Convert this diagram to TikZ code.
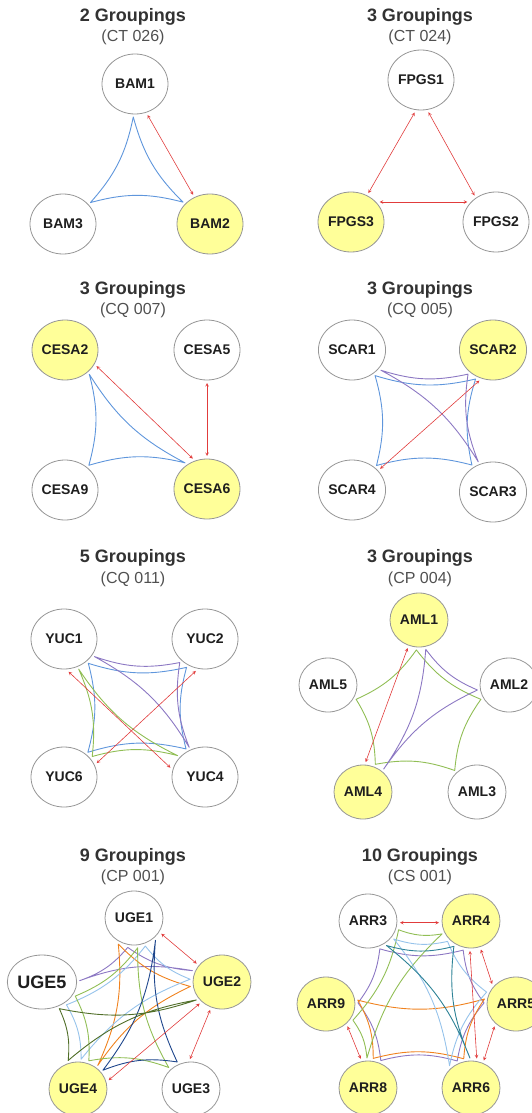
\documentclass[tikz,border=0pt]{standalone}
\usepackage{fontspec}
\setmainfont{Liberation Sans}
\usetikzlibrary{shapes.geometric}
\definecolor{ringgray}{RGB}{150,150,150}
\definecolor{hitfill}{RGB}{255,255,153}
\definecolor{labelblack}{RGB}{30,30,30}
\definecolor{titlegray}{RGB}{50,50,50}
\definecolor{subgray}{RGB}{80,80,80}
\definecolor{redline}{RGB}{225,60,60}
\definecolor{blueline}{RGB}{95,150,220}
\definecolor{purpleline}{RGB}{140,120,195}
\definecolor{greenline}{RGB}{145,190,85}
\definecolor{orangeline}{RGB}{240,130,30}
\definecolor{skyline}{RGB}{150,195,235}
\definecolor{navyline}{RGB}{30,70,140}
\definecolor{oliveline}{RGB}{80,110,40}
\definecolor{tealline}{RGB}{45,130,150}
\begin{document}
\begin{tikzpicture}[x=1pt,y=-1pt,>=stealth,
  gene/.style={ellipse,draw=ringgray,line width=0.8pt,minimum width=66pt,minimum height=60pt,
    inner sep=0pt,outer sep=3pt,text=labelblack,font=\bfseries\fontsize{14}{16}\selectfont},
  genesm/.style={minimum width=58pt,minimum height=54pt},
  hit/.style={gene,fill=hitfill},
  heading/.style={text=titlegray,font=\bfseries\fontsize{18}{20}\selectfont},
  runcode/.style={text=subgray,font=\fontsize{16}{18}\selectfont},
  pair/.style={<->,draw=redline,line width=0.6pt},
  grp/.style={line width=0.9pt,line join=round},
  cave/.style={bend right=15}]
   \useasboundingbox (0,0) rectangle (532,1113);

   % 1段目 左
   \node[heading] (t1) at (133,17) {2 Groupings};
   \node[runcode] (c1) at (133,37) {(CT 026)};
   \node[gene] (BAM1) at (135,84) {BAM1};
   \node[gene] (BAM3) at (63,224) {BAM3};
   \node[hit] (BAM2) at (210,224) {BAM2};
   \draw[grp,blueline] (BAM1.-93) to[cave] (BAM2.141) to[cave] (BAM3.38) to[cave] cycle;
   \draw[pair] (BAM1.-68) -- (BAM2.120);

   % 1段目 右
   \node[heading] (t2) at (420,17) {3 Groupings};
   \node[runcode] (c2) at (420,37) {(CT 024)};
   \node[gene] (FPGS1) at (421,80) {FPGS1};
   \node[hit] (FPGS3) at (351,222) {FPGS3};
   \node[gene] (FPGS2) at (496,222) {FPGS2};
   \draw[pair] (FPGS1.-101) -- (FPGS3.59);
   \draw[pair] (FPGS1.-77) -- (FPGS2.129);
   \draw[pair] (FPGS3.35) -- (FPGS2.145);

   % 2段目 左
   \node[heading] (t3) at (133,290) {3 Groupings};
   \node[runcode] (c3) at (133,310) {(CQ 007)};
   \node[hit] (CESA2) at (65,350) {CESA2};
   \node[gene] (CESA5) at (207,350) {CESA5};
   \node[gene] (CESA9) at (65,490) {CESA9};
   \node[hit] (CESA6) at (207,489) {CESA6};
   \draw[grp,blueline] (CESA2.-45) to[cave] (CESA6.130) to[cave] (CESA9.46) to[cave] cycle;
   \draw[pair] (CESA2.-27) -- (CESA6.115);
   \draw[pair] (CESA5.south) -- (CESA6.north);

   % 2段目 右
   \node[heading] (t4) at (420,290) {3 Groupings};
   \node[runcode] (c4) at (420,310) {(CQ 005)};
   \node[gene] (SCAR1) at (352,350) {SCAR1};
   \node[hit] (SCAR2) at (493,350) {SCAR2};
   \node[gene] (SCAR4) at (352,490) {SCAR4};
   \node[gene] (SCAR3) at (493,492) {SCAR3};
   \draw[grp,blueline] (SCAR1.-48) to[cave] (SCAR2.-121) to[cave] (SCAR3.128) to[cave] (SCAR4.45) to[cave] cycle;
   \draw[grp,purpleline] (SCAR1.-35) to[cave] (SCAR2.-136) to[cave] (SCAR3.116) to[cave] cycle;
   \draw[pair] (SCAR4.37) -- (SCAR2.-114);

   % 3段目 左
   \node[heading] (t5) at (133,558) {5 Groupings};
   \node[runcode] (c5) at (133,579) {(CQ 011)};
   \node[gene] (YUC1) at (64,639) {YUC1};
   \node[gene] (YUC2) at (205,639) {YUC2};
   \node[gene] (YUC6) at (64,777) {YUC6};
   \node[gene] (YUC4) at (205,777) {YUC4};
   \draw[grp,blueline] (YUC1.-45) to[cave] (YUC2.-123) to[cave] (YUC4.124) to[cave] (YUC6.46) to[cave] cycle;
   \draw[grp,purpleline] (YUC1.-30) to[cave] (YUC2.-137) to[cave] (YUC4.118) to[cave] cycle;
   \draw[grp,greenline] (YUC1.-64) to[cave] (YUC4.142) to[cave] (YUC6.36) to[cave] cycle;
   \draw[pair] (YUC1.-82) -- (YUC4.165);
   \draw[pair] (YUC6.23) -- (YUC2.-106);

   % 3段目 右
   \node[heading] (t6) at (420,558) {3 Groupings};
   \node[runcode] (c6) at (420,579) {(CP 004)};
   \node[hit,genesm] (AML1) at (419,620) {AML1};
   \node[gene,genesm] (AML5) at (328,685) {AML5};
   \node[gene,genesm] (AML2) at (509,685) {AML2};
   \node[hit,genesm] (AML4) at (363,792) {AML4};
   \node[gene,genesm] (AML3) at (477,792) {AML3};
   \draw[grp,greenline] (AML1.-95) to[cave] (AML2.-153) to[cave] (AML3.136) to[cave] (AML4.66) to[cave] (AML5.-27) to[cave] cycle;
   \draw[grp,purpleline] (AML1.-77) to[cave] (AML2.-171) to[cave] (AML4.48) to[cave] cycle;
   \draw[pair] (AML4.85) -- (AML1.-112);

   % 4段目 左
   \node[heading] (t7) at (133,857) {9 Groupings};
   \node[runcode] (c7) at (133,877) {(CP 001)};
   \node[gene,genesm] (UGE1) at (134,918) {UGE1};
   \node[gene,genesm,font=\bfseries\fontsize{18}{20}\selectfont] (UGE5) at (42,982) {UGE5};
   \node[hit,genesm] (UGE2) at (222,982) {UGE2};
   \node[hit,genesm] (UGE4) at (78,1089) {UGE4};
   \node[gene,genesm] (UGE3) at (191,1089) {UGE3};
   \draw[grp,purpleline] (UGE5.2) to[cave] (UGE1.-102) to[cave] (UGE2.159) to[cave] cycle;
   \draw[grp,orangeline] (UGE1.-121) to[cave] (UGE2.-172) to[cave] (UGE4.50) to[cave] cycle;
   \draw[grp,skyline] (UGE1.-68) to[cave] (UGE2.175) to[cave] (UGE4.84) to[cave] (UGE5.-43) to[cave] cycle;
   \draw[grp,greenline] (UGE1.-83) to[cave] (UGE3.136) to[cave] (UGE4.69) to[cave] (UGE5.-23) to[cave] cycle;
   \draw[grp,navyline] (UGE1.-46) to[cave] (UGE3.117) to[cave] (UGE4.37) to[cave] cycle;
   \draw[grp,oliveline] (UGE5.-57) to[cave] (UGE2.-145) to[cave] (UGE4.109) to[cave] cycle;
   \draw[pair] (UGE1.-30) -- (UGE2.144);
   \draw[pair] (UGE2.-136) -- (UGE4.16);
   \draw[pair] (UGE2.-113) -- (UGE3.92);

   % 4段目 右
   \node[heading] (t8) at (420,857) {10 Groupings};
   \node[runcode] (c8) at (420,877) {(CS 001)};
   \node[gene,genesm] (ARR3) at (368,921) {ARR3};
   \node[hit,genesm] (ARR4) at (471,921) {ARR4};
   \node[hit,genesm] (ARR9) at (326,1004) {ARR9};
   \node[hit,genesm] (ARR5) at (516,1004) {ARR5};
   \node[hit,genesm] (ARR8) at (368,1088) {ARR8};
   \node[hit,genesm] (ARR6) at (471,1088) {ARR6};
   \draw[grp,purpleline] (ARR3.-67) to[cave] (ARR4.-105) to[cave] (ARR5.178) to[cave] (ARR6.117) to[cave] (ARR8.65) to[cave] (ARR9.2) to[cave] cycle;
   \draw[grp,orangeline] (ARR9.7) to[cave] (ARR5.171) to[cave] (ARR6.104) to[cave] (ARR8.80) to[cave] cycle;
   \draw[grp,greenline] (ARR3.-16) to[cave] (ARR4.-156) to[cave] (ARR8.92) to[cave] (ARR9.-31) to[cave] cycle;
   \draw[grp,skyline] (ARR3.-35) to[cave] (ARR4.-139) to[cave] (ARR5.158) to[cave] (ARR6.134) to[cave] cycle;
   \draw[grp,tealline] (ARR3.-53) to[cave] (ARR4.-124) to[cave] (ARR6.92) to[cave] cycle;
   \draw[pair] (ARR3.-3) -- (ARR4.-177);
   \draw[pair] (ARR4.-92) -- (ARR6.79);
   \draw[pair] (ARR4.-71) -- (ARR5.140);
   \draw[pair] (ARR5.-134) -- (ARR6.65);
   \draw[pair] (ARR9.-46) -- (ARR8.104);
\end{tikzpicture}
\end{document}
